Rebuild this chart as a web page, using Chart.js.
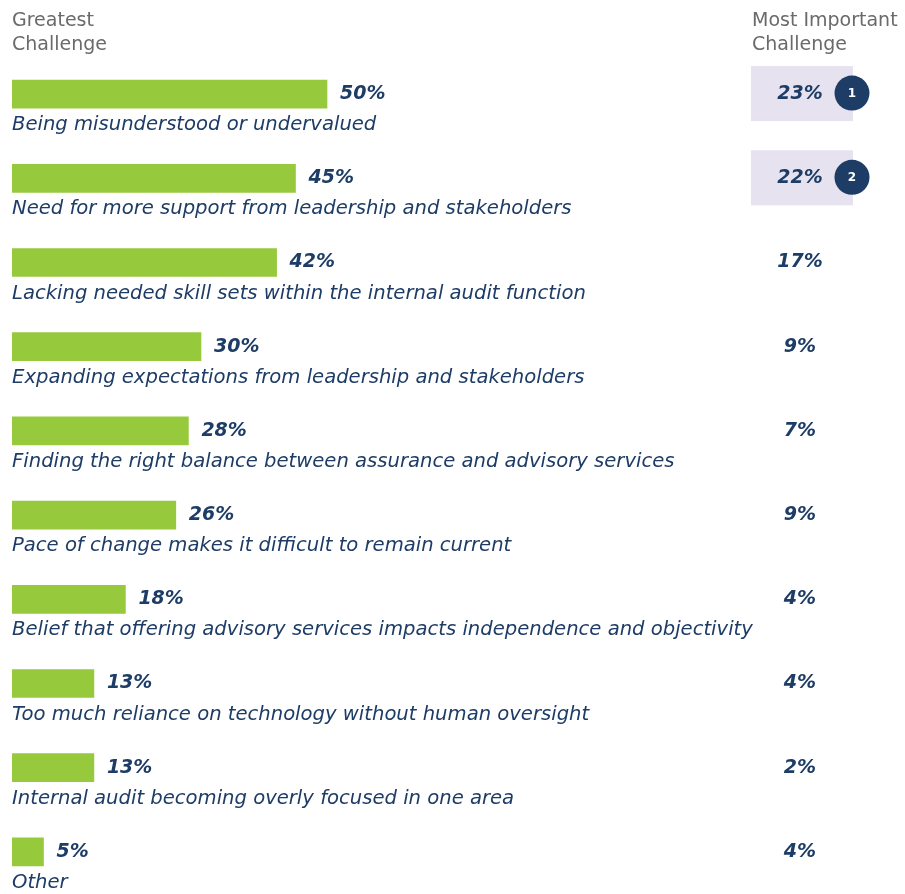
<!DOCTYPE html>
<html>
<head>
<meta charset="utf-8">
<script src="https://cdn.jsdelivr.net/npm/chart.js@4.4.1/dist/chart.umd.min.js"></script>
<style>
  html, body { margin: 0; padding: 0; background: #ffffff; }
  #wrap { width: 905px; height: 894px; position: relative; }
</style>
</head>
<body>
<div id="wrap"><canvas id="chart" width="905" height="894"></canvas></div>
<script>
// ================== Data ==================
const challenges = [
    "Being misunderstood or undervalued",
    "Need for more support from leadership and stakeholders",
    "Lacking needed skill sets within the internal audit function",
    "Expanding expectations from leadership and stakeholders",
    "Finding the right balance between assurance and advisory services",
    "Pace of change makes it difficult to remain current",
    "Belief that offering advisory services impacts independence and objectivity",
    "Too much reliance on technology without human oversight",
    "Internal audit becoming overly focused in one area",
    "Other"
];
const greatestChallenge = [50, 45, 42, 30, 28, 26, 18, 13, 13, 5];
const mostImportant = [23, 22, 17, 9, 7, 9, 4, 4, 2, 4];
const rankLabels = ["1", "2"]; // top two highlighted in the right column

const leftHeader = ["Greatest", "Challenge"];
const rightHeader = ["Most Important", "Challenge"];

// ================== Styles ==================
const GREEN = "#97c93d";
const NAVY = "#1d3c66";
const LAVENDER = "#e6e2f0";
const GREY = "#6a6a6a";
const FONT = "'DejaVu Sans', sans-serif";

// ================== Labels plugin ==================
const labelPlugin = {
    id: "labels",
    afterDatasetsDraw(chart) {
        const ctx = chart.ctx;
        const meta = chart.getDatasetMeta(0);
        const colX = 800;

        ctx.save();

        // headers
        ctx.fillStyle = GREY;
        ctx.font = "19px " + FONT;
        ctx.textBaseline = "alphabetic";
        ctx.textAlign = "left";
        leftHeader.forEach((t, i) => ctx.fillText(t, 12, 26 + i * 24));
        rightHeader.forEach((t, i) => ctx.fillText(t, 752, 26 + i * 24));

        meta.data.forEach((bar, i) => {
            const y = bar.y;

            // highlight box + rank circle
            if (i < rankLabels.length) {
                ctx.fillStyle = LAVENDER;
                ctx.fillRect(751, y - 28, 102, 55);
                ctx.beginPath();
                ctx.arc(852, y - 1, 17.5, 0, Math.PI * 2);
                ctx.fillStyle = NAVY;
                ctx.fill();
                ctx.fillStyle = "#ffffff";
                ctx.font = "bold 12px " + FONT;
                ctx.textAlign = "center";
                ctx.textBaseline = "middle";
                ctx.fillText(rankLabels[i], 852, y);
            }

            // value after the bar
            ctx.fillStyle = NAVY;
            ctx.font = "italic bold 19px " + FONT;
            ctx.textAlign = "left";
            ctx.textBaseline = "middle";
            ctx.fillText(greatestChallenge[i] + "%", bar.x + 13, y);

            // right column value
            ctx.textAlign = "center";
            ctx.fillText(mostImportant[i] + "%", colX, y);

            // category label under the bar
            ctx.font = "italic 19.6px " + FONT;
            ctx.textAlign = "left";
            ctx.textBaseline = "alphabetic";
            ctx.fillText(challenges[i], 12, y + 36);
        });

        ctx.restore();
    }
};

// ================== Chart ==================
new Chart(document.getElementById("chart"), {
    type: "bar",
    data: {
        labels: challenges,
        datasets: [{
            data: greatestChallenge,
            backgroundColor: GREEN,
            barThickness: 28,
            borderWidth: 0
        }]
    },
    options: {
        indexAxis: "y",
        responsive: false,
        animation: false,
        layout: { padding: { left: 12, right: 263, top: 52, bottom: 0 } },
        plugins: { legend: { display: false }, tooltip: { enabled: false } },
        scales: {
            x: { display: false, min: 0, max: 100 },
            y: { display: false }
        }
    },
    plugins: [labelPlugin]
});
</script>
</body>
</html>
